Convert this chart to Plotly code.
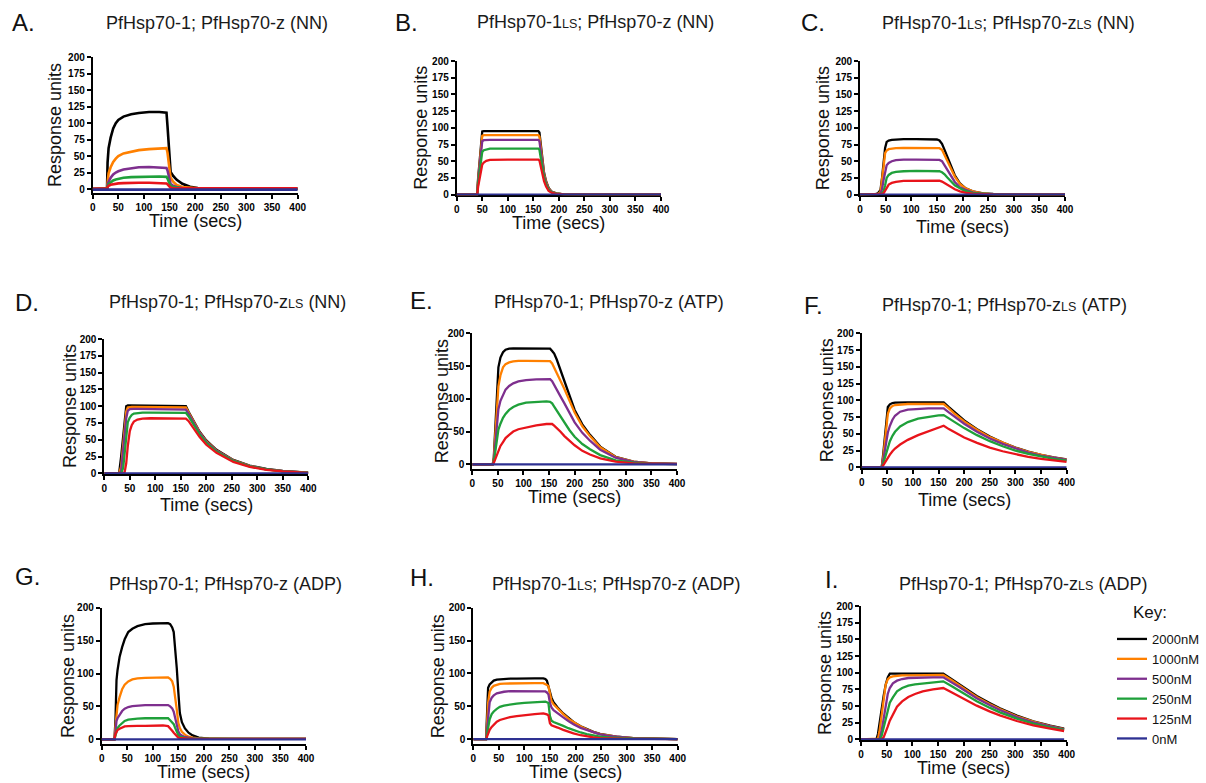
import plotly.graph_objects as go

W, H = 1206, 783
CONC = ["2000nM", "1000nM", "500nM", "250nM", "125nM", "0nM"]
COLORS = ["#000000", "#FF8000", "#7E2F8E", "#1FA03A", "#E8141B", "#2E3192"]

# ---------------- data ----------------
A_time = [0, 26, 28, 29, 31, 35, 40, 45, 50, 60, 75, 90, 110, 130, 144, 146, 149, 152, 157, 164, 175, 190, 205, 230, 300, 400]
A_2000 = [0, 0, 0, 40, 62, 78, 92, 100, 105, 110, 113.5, 115.5, 117, 117, 116, 95, 55, 26, 20, 14, 8, 3.5, 1.5, 0.5, 0, 0]
A_1000 = [0, 0, 2, 15, 24, 33, 41, 46, 50, 54, 57, 59, 60.5, 62, 62, 55, 35, 17, 11, 6, 3, 1.5, 1, 0.5, 0.3, 0.3]
A_500 = [0, 0, 1, 6, 11, 17, 22, 25, 27, 29.5, 31.5, 33, 33.5, 33, 32, 28, 17, 8, 5, 3, 1.5, 1, 0.5, 0.3, 0.3, 0.3]
A_250 = [0, 0, 1, 4, 7, 10, 13, 14.5, 15.5, 17, 18, 18.5, 19, 19, 18.5, 16, 10, 5, 3, 2, 1, 0.5, 0.5, 0.3, 0.3, 0.3]
A_125 = [0.5, 0.5, 1, 3, 5, 6.5, 7.5, 8, 8.5, 9, 9.5, 9.5, 9.5, 9, 8.5, 7, 4, 2, 1.5, 1, 1, 1, 1, 1, 1, 1]
A_0 = [-1, -1, -1, -1, -1, -1, -1, -1, -1, -1, -1, -1, -1, -1, -1, -1, -1, -1, -1, -1, -1, -1, -1, -1, -1, -1]

B_time = [0, 40, 42, 45, 48, 50, 53, 58, 65, 80, 100, 130, 160, 162, 165, 168, 171, 175, 180, 186, 195, 210, 250, 400]
B_2000 = [0, 0, 25, 55, 85, 94.5, 95, 95, 95, 95, 95, 95, 95, 93, 72, 52, 33, 20, 10, 4.5, 2, 0.5, 0, 0]
B_1000 = [0, 0, 23, 52, 80, 88, 89, 89, 89, 89, 89, 89, 89, 87, 67, 48, 31, 19, 9, 4, 1.8, 0.5, 0, 0]
B_500 = [0, 0, 21, 47, 72, 80, 81.5, 82, 82, 82, 82, 82, 82, 80, 62, 44, 28, 17, 8, 3.8, 1.6, 0.4, 0, 0]
B_250 = [0, 0, 17, 38, 57, 64, 66.5, 68, 69, 69, 69, 69, 69, 67, 52, 37, 25, 15, 7, 3.3, 1.4, 0.4, 0, 0]
B_125 = [0, 0, 12, 27, 40, 45, 48, 50.5, 52, 52.5, 52.5, 52.5, 52.5, 51, 40, 29, 20, 12, 5.5, 2.8, 1, 0.3, 0, 0]
B_0 = [0, 0, 0, 0, 0, 0, 0, 0, 0, 0, 0, 0, 0, 0, 0, 0, 0, 0, 0, 0, 0, 0, 0, 0]

C_time = [0, 28, 35, 40, 43, 46, 49, 52, 56, 62, 70, 85, 110, 140, 150, 155, 160, 165, 170, 177, 185, 195, 205, 220, 240, 260, 300, 400]
C_2000 = [0, 0, 2, 7, 25, 48, 70, 79, 81, 82, 82.5, 83, 83, 83, 82.5, 81, 76, 67, 57, 44, 29, 17, 10, 5, 2, 1, 0, 0]
C_1000 = [0, 0, 1, 4, 20, 42, 62, 66, 68, 69, 69.5, 70, 70, 70, 70, 69.5, 67, 60, 51, 40, 27, 16, 10, 5, 2, 0.5, 0, 0]
C_500 = [0, 0, 0.5, 2, 8, 22, 36, 44, 47.5, 50, 51.5, 52.5, 52.5, 52.5, 52.5, 52, 50, 44, 37, 28, 19, 11, 7.5, 3.5, 1, 0.3, 0, 0]
C_250 = [0, 0, 0, 1, 2, 5, 14, 25, 29.5, 32.5, 34, 35, 35.5, 35.5, 35.5, 35, 33.5, 30.5, 26, 20.5, 14, 9.5, 5.5, 2.5, 1, 0.3, 0, 0]
C_125 = [0, 0, 0, 0.5, 1, 2, 6, 11, 15, 17.5, 19, 20.5, 21, 21.5, 21.5, 21, 19.5, 17, 14.5, 11.5, 8, 5, 3, 1.5, 0.5, 0.2, 0, 0]
C_0 = [0, 0, 0, 0, 0, 0, 0, 0, 0, 0, 0, 0, 0, 0, 0, 0, 0, 0, 0, 0, 0, 0, 0, 0, 0, 0, 0, 0]

D_time = [0, 29, 33, 37, 40, 43, 46, 50, 54, 58, 65, 75, 90, 120, 155, 160, 165, 175, 187, 200, 220, 253, 285, 318, 350, 400]
D_2000 = [0, 0, 25, 60, 85, 100, 101, 101, 101, 101, 101, 101, 101, 101, 101, 100, 92, 78, 62, 49, 35, 20, 11.5, 6.5, 3.5, 1]
D_1000 = [0, 0, 10, 45, 72, 92, 98, 99, 99, 99, 99, 99, 99, 99, 99, 98, 91, 77, 61, 48, 34, 19.5, 11, 6, 3.3, 1]
D_500 = [0, 0, 3, 30, 58, 82, 93, 95.5, 96, 96, 96, 96, 96, 96, 96, 95, 89, 75, 60, 47, 33.5, 19, 10.8, 6, 3.2, 1]
D_250 = [0, 0, 0, 8, 35, 60, 76, 83, 87, 89, 90, 90.5, 90.5, 90.5, 90.5, 90, 85, 72, 58, 45.5, 32.5, 18.5, 10.5, 5.8, 3, 1]
D_125 = [0, 0, 0, 0, 2, 15, 40, 63, 72, 77, 80, 81.5, 82, 82, 82, 81.5, 78, 67, 54, 42.5, 30.5, 17, 9.5, 5.3, 2.8, 0.8]
D_0 = [0, 0, 0, 0, 0, 0, 0, 0, 0, 0, 0, 0, 0, 0, 0, 0, 0, 0, 0, 0, 0, 0, 0, 0, 0, 0]

E_time = [0, 40, 42, 45, 48, 51, 55, 60, 65, 72, 80, 90, 105, 125, 145, 152, 156, 160, 165, 172, 180, 190, 200, 215, 230, 250, 280, 315, 350, 400]
E_2000 = [0, 0, 10, 55, 105, 148, 163, 171, 175, 176.5, 177, 177, 177, 177, 177, 176.5, 173, 169, 160, 145, 125, 104, 83, 61, 45, 27, 11.5, 4, 1.5, 0.5]
E_1000 = [0, 0, 8, 45, 85, 119, 136, 148, 153, 155.5, 157, 158, 158, 158, 158, 157.5, 154, 148, 139, 128, 115, 97, 79, 58, 43, 26, 11, 4, 1.5, 0.5]
E_500 = [0, 0, 5, 30, 58, 84, 97, 107, 114, 119.5, 123.5, 126.5, 128.5, 129.5, 130, 130, 127, 121, 113, 104, 93, 78, 64, 48, 36, 22, 10, 3.5, 1.3, 0.5]
E_250 = [0, 0, 3, 18, 36, 53, 62, 71, 77, 83, 87.5, 91, 94, 95.5, 96, 95.5, 93, 88, 82, 74, 63, 52, 42, 31, 23, 14, 6, 2.5, 1, 0.3]
E_125 = [0, 0, 2, 8, 15, 21, 28, 34, 40, 45, 50, 53.5, 56.5, 59.5, 61.5, 62, 61.5, 59, 55.5, 50, 43, 35.5, 29, 20.5, 15, 9, 4, 1.5, 0.7, 0.3]
E_0 = [0, 0, 0, 0, 0, 0, 0, 0, 0, 0, 0, 0, 0, 0, 0, 0, 0, 0, 0, 0, 0, 0, 0, 0, 0, 0, 0, 0, 0, 0]

F_time = [0, 39, 42, 45, 48, 51, 55, 60, 65, 75, 90, 110, 130, 150, 160, 170, 180, 200, 225, 250, 275, 300, 325, 350, 375, 400]
F_2000 = [0, 0, 20, 45, 72, 90, 94, 96, 96.5, 97, 97, 97, 97, 97, 97, 90, 83, 70, 57, 46, 37, 29.5, 23.5, 18.5, 15, 12]
F_1000 = [0, 0, 15, 38, 62, 80, 88, 91.5, 93, 94, 94.5, 94.5, 94.5, 94.5, 94.5, 88, 81, 68.5, 56, 45, 36.5, 29, 23, 18.5, 14.5, 11.5]
F_500 = [0, 0, 10, 25, 40, 52, 62, 71, 77, 83, 86, 87.5, 88, 88, 88, 82, 76, 65, 53, 43, 35, 28, 22, 17.5, 14, 11]
F_250 = [0, 0, 6, 14, 22, 30, 39, 47, 53, 61, 67.5, 72.5, 75.5, 77.5, 78, 73, 68, 58.5, 48, 39, 31.5, 25, 20, 16, 12.5, 10]
F_125 = [0, 0, 3, 7, 11, 15, 19, 24, 28, 34, 41, 48, 54, 59, 62, 57, 52.5, 44.5, 36.5, 29.5, 24, 19.5, 15.5, 12.5, 10, 8]
F_0 = [0, 0, 0, 0, 0, 0, 0, 0, 0, 0, 0, 0, 0, 0, 0, 0, 0, 0, 0, 0, 0, 0, 0, 0, 0, 0]

G_time = [0, 25, 27, 29, 31, 35, 40, 45, 52, 60, 70, 85, 100, 120, 130, 134, 138, 141, 144, 147, 150, 153, 157, 163, 170, 178, 190, 210, 250, 400]
G_2000 = [0, 0, 30, 90, 105, 125, 140, 152, 163, 168, 172, 175, 176, 176.5, 176.5, 175, 170, 163, 140, 108, 72, 40, 26, 16.5, 10, 6, 2.5, 1, 0.5, 0.5]
G_1000 = [0, 0, 20, 42, 52, 64, 76, 83, 88, 91, 92.5, 93.5, 94, 94, 94, 92, 88, 80, 65, 45, 25, 17, 11.5, 7, 4, 2.5, 1.5, 1, 0.5, 0.5]
G_500 = [0, 0, 12, 28, 32, 38, 43, 46.5, 49, 50.5, 51.5, 52, 52, 52, 52, 50, 47, 42, 33, 22, 12, 8, 5.5, 3.5, 2.5, 1.5, 1, 0.8, 0.5, 0.5]
G_250 = [0, 0, 6, 14, 17, 21, 25, 28, 30, 31, 31.5, 32, 32, 32, 32, 29, 26, 23, 17, 11, 6.5, 4, 3, 2, 1.5, 1, 1, 0.8, 0.5, 0.5]
G_125 = [0, 0, 8, 12, 14, 16, 18, 19.5, 20, 20.5, 20.5, 20.5, 21, 21, 20, 17, 13, 10, 7, 4, 2.5, 2, 1.5, 1, 1, 0.8, 0.7, 0.6, 0.5, 0.5]
G_0 = [0, 0, 0, 0, 0, 0, 0, 0, 0, 0, 0, 0, 0, 0, 0, 0, 0, 0, 0, 0, 0, 0, 0, 0, 0, 0, 0, 0, 0, 0]

H_time = [0, 25, 27, 29, 32, 36, 40, 46, 52, 60, 72, 85, 100, 120, 137, 141, 144, 147, 150, 153, 157, 165, 176, 186, 196, 210, 222, 235, 248, 265, 280, 313, 350, 400]
H_2000 = [0, 0, 40, 78, 83, 86.5, 89, 90.5, 91, 91.5, 92, 92, 92.5, 92.5, 92.5, 91.5, 89, 80, 69, 63, 56, 48, 39, 32, 26, 19.5, 15, 11, 8, 5.5, 3.5, 1.5, 0.5, 0]
H_1000 = [0, 0, 25, 55, 72, 78, 81, 83, 84, 84.5, 84.8, 85, 85, 85, 85, 84, 82.5, 80.5, 66, 58, 53, 46, 38, 31, 25.5, 19, 14.7, 10.5, 7.6, 5, 3.5, 1.5, 0.5, 0]
H_500 = [0, 0, 15, 38, 56, 63, 66.5, 69.5, 71, 72, 73, 73, 73.5, 73.5, 73.5, 72.5, 71, 68, 55, 48, 44, 39, 33, 27.5, 22.5, 17, 13.5, 10, 7, 4.8, 3.5, 1.5, 0.5, 0]
H_250 = [0, 0, 8, 20, 30, 38, 42, 46, 49, 51, 53, 54, 55, 56, 57, 57, 56, 55, 35, 28, 26, 23, 20, 16.5, 13.5, 10, 7.6, 5.5, 3.5, 2.5, 1.8, 1, 0.5, 0]
H_125 = [0, 0, 4, 9, 14, 18.5, 22, 26.5, 29, 31, 33.5, 35, 36.5, 38, 39, 38.5, 37.5, 36, 24, 21, 19.5, 17.5, 14, 11, 8.6, 5.8, 3.8, 2.5, 1.5, 1, 0.7, 0.4, 0.2, 0]
H_0 = [0, 0, 0, 0, 0, 0, 0, 0, 0, 0, 0, 0, 0, 0, 0, 0, 0, 0, 0, 0, 0, 0, 0, 0, 0, 0, 0, 0, 0, 0, 0, 0, 0, 0]

I_time = [0, 30, 33, 36, 40, 44, 48, 52, 56, 62, 70, 80, 92, 105, 120, 140, 160, 175, 192, 210, 225, 250, 270, 303, 335, 368, 395]
I_2000 = [0, 0, 8, 25, 50, 65, 82, 93, 98.5, 98.5, 98.5, 98.5, 98.5, 98.5, 98.5, 98.5, 98.5, 91, 82, 72.5, 65, 54.5, 46.5, 35.5, 27, 20.5, 16]
I_1000 = [0, 0, 1, 12, 35, 64, 82, 90, 93, 94.5, 95.5, 96, 96, 96, 96, 96.5, 96.5, 89.5, 80.5, 71, 63.5, 53, 45.5, 34.5, 26.5, 20, 15.5]
I_500 = [0, 0, 0, 0, 12, 30, 52, 68, 77, 84, 88, 90.5, 92, 92.5, 93, 93, 93, 86.5, 78, 69, 61.5, 51.5, 44, 33.5, 25.5, 19.5, 15]
I_250 = [0, 0, 0, 0, 5, 18, 33, 46, 55, 63, 72, 77, 80.5, 82.5, 84, 85.5, 87, 80.5, 72.5, 64, 57, 47.5, 40.5, 31, 23.5, 18, 14]
I_125 = [0, 0, 0, 0, 0, 3, 10, 19, 28, 38, 49, 57, 63.5, 68, 72, 75, 77, 71, 64, 56.5, 50.5, 42, 36, 27.5, 21, 16, 12.5]
I_0 = [0, 0, 0, 0, 0, 0, 0, 0, 0, 0, 0, 0, 0, 0, 0, 0, 0, 0, 0, 0, 0, 0, 0, 0, 0, 0, 0]

LS = "<span style='font-size:12.5px'>LS</span>"
TITLES = {
    "A": "PfHsp70-1; PfHsp70-z (NN)",
    "B": "PfHsp70-1" + LS + "; PfHsp70-z (NN)",
    "C": "PfHsp70-1" + LS + "; PfHsp70-z" + LS + " (NN)",
    "D": "PfHsp70-1; PfHsp70-z" + LS + " (NN)",
    "E": "PfHsp70-1; PfHsp70-z (ATP)",
    "F": "PfHsp70-1; PfHsp70-z" + LS + " (ATP)",
    "G": "PfHsp70-1; PfHsp70-z (ADP)",
    "H": "PfHsp70-1" + LS + "; PfHsp70-z (ADP)",
    "I": "PfHsp70-1; PfHsp70-z" + LS + " (ADP)",
}

PANELS = [
    ("A", A_time, [A_2000, A_1000, A_500, A_250, A_125, A_0]),
    ("B", B_time, [B_2000, B_1000, B_500, B_250, B_125, B_0]),
    ("C", C_time, [C_2000, C_1000, C_500, C_250, C_125, C_0]),
    ("D", D_time, [D_2000, D_1000, D_500, D_250, D_125, D_0]),
    ("E", E_time, [E_2000, E_1000, E_500, E_250, E_125, E_0]),
    ("F", F_time, [F_2000, F_1000, F_500, F_250, F_125, F_0]),
    ("G", G_time, [G_2000, G_1000, G_500, G_250, G_125, G_0]),
    ("H", H_time, [H_2000, H_1000, H_500, H_250, H_125, H_0]),
    ("I", I_time, [I_2000, I_1000, I_500, I_250, I_125, I_0]),
]

# ---------------- layout geometry (pixels) ----------------
POS = {
    "A": dict(x0=92.7, x1=297.7, top=57.3, bot=192.7, ymin=-5.6, dtick=25, title=(217, 23), letter=(10, 23), ytl=55, xtl=221),
    "B": dict(x0=456.7, x1=661, top=61, bot=195.3, ymin=-1, dtick=25, title=(595.5, 22), letter=(393, 22), ytl=420.7, xtl=222.5),
    "C": dict(x0=860, x1=1065, top=61, bot=195.3, ymin=-1, dtick=25, title=(1008.8, 23), letter=(799, 23), ytl=823, xtl=226.7),
    "D": dict(x0=104.3, x1=308.3, top=339, bot=474, ymin=-1, dtick=25, title=(227, 302), letter=(12.7, 302), ytl=69.5, xtl=505),
    "E": dict(x0=472.3, x1=677, top=333.3, bot=469, ymin=-7.2, dtick=50, title=(608.7, 301.7), letter=(408, 300), ytl=442, xtl=496.5),
    "F": dict(x0=861.7, x1=1066.7, top=333.3, bot=468, ymin=-1, dtick=25, title=(1004.7, 305), letter=(801.7, 305), ytl=826.7, xtl=500),
    "G": dict(x0=101.7, x1=306, top=607.7, bot=744.3, ymin=-7.6, dtick=50, title=(225.8, 584), letter=(12.7, 576), ytl=68, xtl=771.5),
    "H": dict(x0=473.3, x1=677.7, top=607.7, bot=744.3, ymin=-8, dtick=50, title=(615.8, 584), letter=(408, 577), ytl=438.3, xtl=771.5),
    "I": dict(x0=861, x1=1066.7, top=606, bot=740, ymin=-1, dtick=25, title=(1023, 584), letter=(823, 579), ytl=825, xtl=768),
}

FONT = "Liberation Sans, Arial, sans-serif"
fig = go.Figure()
layout = dict(
    width=W, height=H, autosize=False,
    margin=dict(l=0, r=0, t=0, b=0, pad=0, autoexpand=False),
    paper_bgcolor="white", plot_bgcolor="white",
    font=dict(family=FONT, color="#000000"),
    showlegend=True,
    legend=dict(
        x=1112 / W, y=1 - 624 / H, xanchor="left", yanchor="top",
        font=dict(size=13, color="#111111"), bgcolor="rgba(0,0,0,0)",
        tracegroupgap=0, itemwidth=30, borderwidth=0,
    ),
)
annotations = []

def px(x):
    return x / W

def py(y):
    return 1 - y / H

for i, (key, t, series) in enumerate(PANELS):
    p = POS[key]
    n = "" if i == 0 else str(i + 1)
    xa, ya = "x" + n, "y" + n
    for s, (vals, name, col) in enumerate(zip(series, CONC, COLORS)):
        fig.add_trace(go.Scatter(
            x=t, y=vals, mode="lines", name=name,
            line=dict(color=col, width=2.6 if key == "A" else 2.3),
            xaxis=xa, yaxis=ya, showlegend=(key == "I"), legendrank=s + 1,
            hoverinfo="skip",
        ))
    axis_common = dict(
        showgrid=False, zeroline=False, showline=True, linecolor="black", linewidth=1.8,
        ticks="outside", ticklen=4, tickwidth=1.5, tickcolor="black",
        tickfont=dict(size=10, weight="bold", color="black", family=FONT),
        layer="below traces", fixedrange=True, automargin=False,
    )
    layout["xaxis" + n] = dict(
        axis_common, domain=[px(p["x0"]), px(p["x1"])], range=[0, 400],
        tick0=0, dtick=50, anchor=ya,
    )
    layout["yaxis" + n] = dict(
        axis_common, domain=[py(p["bot"]), py(p["top"])], range=[p["ymin"], 200],
        tickmode="array", tickvals=list(range(0, 201, p["dtick"])), anchor=xa,
    )
    annotations.append(dict(
        text=TITLES[key], x=px(p["title"][0]), y=py(p["title"][1]), xref="paper", yref="paper",
        xanchor="center", yanchor="middle", showarrow=False,
        font=dict(size=18, color="#1a1a1a", family=FONT),
    ))
    annotations.append(dict(
        text=key + ".", x=px(p["letter"][0]), y=py(p["letter"][1]), xref="paper", yref="paper",
        xanchor="left", yanchor="middle", showarrow=False,
        font=dict(size=24, color="#111111", family=FONT),
    ))
    annotations.append(dict(
        text="Response units", x=px(p["ytl"]), y=py((p["top"] + p["bot"]) / 2), xref="paper", yref="paper",
        xanchor="center", yanchor="middle", textangle=-90, showarrow=False,
        font=dict(size=18, color="#111111", family=FONT),
    ))
    annotations.append(dict(
        text="Time (secs)", x=px((p["x0"] + p["x1"]) / 2), y=py(p["xtl"]), xref="paper", yref="paper",
        xanchor="center", yanchor="middle", showarrow=False,
        font=dict(size=18, color="#111111", family=FONT),
    ))

annotations.append(dict(
    text="Key:", x=px(1131), y=py(612), xref="paper", yref="paper",
    xanchor="left", yanchor="middle", showarrow=False,
    font=dict(size=17, color="#111111", family=FONT),
))

layout["annotations"] = annotations
fig.update_layout(**layout)
fig.write_html(
    "out.html",
    config={"displayModeBar": False},
    post_script="document.body.style.margin='0px';document.documentElement.style.overflow='hidden';document.body.style.overflow='hidden';",
)
